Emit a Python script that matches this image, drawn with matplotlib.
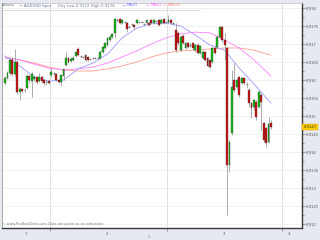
import matplotlib
matplotlib.use('Agg')
import matplotlib.pyplot as plt
from matplotlib.patches import Rectangle

# 30 minute candles, AUDUSD spot
opens = [0.91592, 0.91606, 0.91619, 0.91656, 0.91617, 0.91650, 0.91567, 0.91575, 0.91572, 0.91578,
         0.91611, 0.91597, 0.91603, 0.91608, 0.91597, 0.91608, 0.91600, 0.91594, 0.91597,
         0.91614, 0.91619, 0.91617, 0.91600, 0.91594, 0.91611, 0.91642, 0.91661, 0.91653, 0.91656,
         0.91667, 0.91686, 0.91667, 0.91664, 0.91669, 0.91664, 0.91658, 0.91661, 0.91661, 0.91661,
         0.91661, 0.91678, 0.91689, 0.91697, 0.91711, 0.91719, 0.91731, 0.91767, 0.91769, 0.91758,
         0.91761, 0.91758, 0.91747, 0.91756, 0.91753, 0.91758, 0.91761, 0.91761, 0.91756, 0.91758,
         0.91758, 0.91767, 0.91758, 0.91764, 0.91767, 0.91758, 0.91769, 0.91761,
         0.91761, 0.91767, 0.91758, 0.91739, 0.91731, 0.91683, 0.91722, 0.91689, 0.91703, 0.91697,
         0.91703, 0.91683, 0.91697, 0.91675, 0.91661, 0.91678, 0.91661, 0.91656, 0.91650, 0.91689,
         0.91692, 0.91719, 0.91747, 0.91711, 0.91689, 0.91364, 0.91453, 0.91600, 0.91581, 0.91608,
         0.91592, 0.91606, 0.91589, 0.91572, 0.91536, 0.91525, 0.91539, 0.91525, 0.91558, 0.91481,
         0.91467, 0.91428, 0.91481]
highs = [0.91611, 0.91625, 0.91661, 0.91664, 0.91686, 0.91656, 0.91581, 0.91578, 0.91578, 0.91617,
         0.91614, 0.91622, 0.91614, 0.91611, 0.91619, 0.91611, 0.91603, 0.91600, 0.91600,
         0.91633, 0.91622, 0.91619, 0.91603, 0.91617, 0.91633, 0.91678, 0.91664, 0.91664, 0.91667,
         0.91681, 0.91692, 0.91669, 0.91667, 0.91672, 0.91667, 0.91661, 0.91664, 0.91664, 0.91664,
         0.91683, 0.91694, 0.91706, 0.91719, 0.91725, 0.91731, 0.91772, 0.91772, 0.91772, 0.91769,
         0.91764, 0.91761, 0.91753, 0.91758, 0.91756, 0.91769, 0.91764, 0.91764, 0.91758, 0.91769,
         0.91761, 0.91769, 0.91769, 0.91767, 0.91769, 0.91769, 0.91772, 0.91764,
         0.91781, 0.91769, 0.91761, 0.91758, 0.91736, 0.91725, 0.91728, 0.91706, 0.91706, 0.91703,
         0.91706, 0.91700, 0.91700, 0.91697, 0.91683, 0.91681, 0.91664, 0.91658, 0.91692, 0.91694,
         0.91725, 0.91753, 0.91750, 0.91731, 0.91692, 0.91433, 0.91628, 0.91647, 0.91606, 0.91611,
         0.91608, 0.91608, 0.91594, 0.91578, 0.91539, 0.91547, 0.91544, 0.91572, 0.91564, 0.91483,
         0.91469, 0.91497, 0.91489]
lows = [0.91586, 0.91603, 0.91614, 0.91611, 0.91611, 0.91561, 0.91544, 0.91564, 0.91567, 0.91575,
        0.91594, 0.91553, 0.91597, 0.91589, 0.91594, 0.91592, 0.91586, 0.91586, 0.91589,
        0.91608, 0.91614, 0.91597, 0.91592, 0.91583, 0.91600, 0.91639, 0.91647, 0.91650, 0.91653,
        0.91664, 0.91667, 0.91661, 0.91661, 0.91653, 0.91653, 0.91656, 0.91658, 0.91658, 0.91656,
        0.91658, 0.91675, 0.91686, 0.91694, 0.91708, 0.91717, 0.91717, 0.91761, 0.91756, 0.91756,
        0.91758, 0.91733, 0.91744, 0.91750, 0.91742, 0.91756, 0.91758, 0.91758, 0.91753, 0.91756,
        0.91750, 0.91756, 0.91756, 0.91761, 0.91750, 0.91756, 0.91756, 0.91758,
        0.91758, 0.91756, 0.91753, 0.91678, 0.91697, 0.91681, 0.91700, 0.91686, 0.91689, 0.91692,
        0.91683, 0.91678, 0.91672, 0.91672, 0.91658, 0.91653, 0.91636, 0.91633, 0.91647, 0.91672,
        0.91689, 0.91717, 0.91706, 0.91656, 0.91225, 0.91344, 0.91447, 0.91567, 0.91578, 0.91553,
        0.91589, 0.91586, 0.91578, 0.91525, 0.91494, 0.91517, 0.91489, 0.91522, 0.91461, 0.91428,
        0.91414, 0.91425, 0.91464]
closes = [0.91606, 0.91619, 0.91656, 0.91617, 0.91650, 0.91567, 0.91575, 0.91569, 0.91572, 0.91611,
          0.91600, 0.91617, 0.91608, 0.91594, 0.91608, 0.91597, 0.91592, 0.91594, 0.91592,
          0.91622, 0.91619, 0.91600, 0.91594, 0.91614, 0.91631, 0.91661, 0.91650, 0.91658, 0.91661,
          0.91678, 0.91669, 0.91667, 0.91664, 0.91656, 0.91656, 0.91658, 0.91661, 0.91661, 0.91661,
          0.91678, 0.91692, 0.91703, 0.91717, 0.91719, 0.91728, 0.91769, 0.91767, 0.91758, 0.91767,
          0.91761, 0.91742, 0.91747, 0.91756, 0.91747, 0.91767, 0.91761, 0.91761, 0.91756, 0.91767,
          0.91753, 0.91758, 0.91767, 0.91764, 0.91753, 0.91767, 0.91758, 0.91761,
          0.91767, 0.91758, 0.91758, 0.91683, 0.91703, 0.91719, 0.91703, 0.91703, 0.91692, 0.91697,
          0.91689, 0.91697, 0.91675, 0.91694, 0.91678, 0.91656, 0.91639, 0.91636, 0.91689, 0.91675,
          0.91719, 0.91747, 0.91711, 0.91697, 0.91364, 0.91428, 0.91581, 0.91572, 0.91600, 0.91558,
          0.91606, 0.91592, 0.91589, 0.91536, 0.91522, 0.91544, 0.91497, 0.91567, 0.91539, 0.91433,
          0.91425, 0.91478, 0.91469]

# moving averages, read at a few candle positions
ma_idx = [0, 6, 12, 18, 24, 30, 36, 42, 48, 54, 60, 66, 72, 78, 84, 90, 96, 102, 109]
ma20 = [0.91667, 0.91639, 0.91608, 0.91597, 0.91600, 0.91631, 0.91647, 0.91672, 0.91717, 0.91744,
        0.91756, 0.91758, 0.91750, 0.91725, 0.91697, 0.91683, 0.91633, 0.91589, 0.91536]
ma50 = [0.91661, 0.91656, 0.91644, 0.91633, 0.91628, 0.91631, 0.91636, 0.91647, 0.91664, 0.91681,
        0.91700, 0.91717, 0.91728, 0.91733, 0.91731, 0.91711, 0.91689, 0.91656, 0.91611]
ma100 = [0.91664, 0.91656, 0.91647, 0.91636, 0.91628, 0.91625, 0.91625, 0.91631, 0.91639, 0.91650,
         0.91664, 0.91675, 0.91681, 0.91683, 0.91686, 0.91689, 0.91689, 0.91683, 0.91669]

yticks = [0.912, 0.9125, 0.913, 0.9135, 0.914, 0.9145, 0.915, 0.9155,
          0.916, 0.9165, 0.917, 0.9175, 0.918]
ytick_labels = ['0.912', '0.9125', '0.913', '0.9135', '0.914', '0.9145', '0.915', '0.9155',
                '0.916', '0.9165', '0.917', '0.9175', '0.918']
day_bounds = [18.44, 66.39, 113.52]
day_labels = ['1', '2', '3', '4']
day_label_pos = [8.6, 41.8, 89.75, 116.4]
last_price = 0.91469
last_label = '0.9147'

W, H = 320, 240
step = 2.44  # px per candle

fig = plt.figure(figsize=(W / 100, H / 100), dpi=100)
fig.patch.set_facecolor('#e6e9ef')
ax = fig.add_axes([2 / W, 1 - 228 / H, 300 / W, 225.5 / H])
ax.set_facecolor('white')
ax.set_xlim(-3 / step, 297 / step)
ax.set_ylim(0.911889, 0.918153)

# grid
for yt in yticks:
    ax.axhline(yt, color='#efefef', lw=0.6, zorder=0)
for xb in day_bounds:
    ax.axvline(xb, color='#dcdcdc', lw=0.6, zorder=0)

# moving averages
ax.plot(ma_idx, ma100, color='#ff9a8a', lw=0.6, zorder=2)
ax.plot(ma_idx, ma50, color='#ff80ff', lw=0.6, zorder=2)
ax.plot(ma_idx, ma20, color='#9a9aff', lw=0.6, zorder=2)

# candles
for i, (o, h, l, c) in enumerate(zip(opens, highs, lows, closes)):
    ax.vlines(i, l, h, color='#8c8c8c', lw=0.5, zorder=3)
    if c == o:
        ax.hlines(o, i - 0.4, i + 0.4, color='#707070', lw=0.6, zorder=4)
        continue
    col = '#10c010' if c > o else '#d01010'
    ax.add_patch(Rectangle((i - 0.38, min(o, c)), 0.76, abs(c - o),
                           facecolor=col, edgecolor='#303030', lw=0.25, zorder=4))

# axes styling
for side in ['right', 'bottom']:
    ax.spines[side].set_color('#3a3a3a')
    ax.spines[side].set_linewidth(1.0)
ax.spines['left'].set_color('#9a9a9a')
ax.spines['left'].set_linewidth(0.6)
ax.spines['top'].set_color('#c8c8c8')
ax.spines['top'].set_linewidth(0.6)

ax.yaxis.tick_right()
ax.set_yticks(yticks)
ax.set_yticklabels(ytick_labels)
ax.set_yticks([t + 0.00025 for t in yticks[:-1]], minor=True)
ax.tick_params(axis='y', which='major', labelsize=2.7, labelcolor='#555555',
               color='#555555', length=2, width=0.4, pad=0.8)
ax.tick_params(axis='y', which='minor', color='#555555', length=1.2, width=0.4)
ax.set_xticks(day_bounds)
ax.set_xticklabels([])
ax.tick_params(axis='x', color='#555555', length=2, width=0.4)

xt = ax.get_xaxis_transform()
for pos, lab in zip(day_label_pos, day_labels):
    ax.text(pos, -0.018, lab, transform=xt, fontsize=2.7, color='#555555',
            ha='center', va='top', clip_on=False)

# last price marker
yt_tr = ax.get_yaxis_transform()
ax.text(1.006, last_price, last_label, transform=yt_tr, fontsize=2.7, color='#333333',
        ha='left', va='center', clip_on=False,
        bbox=dict(boxstyle='square,pad=0.35', facecolor='#ffcc00', edgecolor='#e0a800', lw=0.3))

# header legend
header = [('Values', 2, '#666666'), ('\u2014', 18.5, '#00007a'), ('AUDUSD Spot', 24.5, '#5a6a9a'),
          ('Day Low 0.9122 High 0.9178', 57.5, '#7a7a9a'), ('\u2014', 121.5, '#0000ff'),
          ('MA20', 127, '#7070ff'), ('\u2014', 145.5, '#ff00ff'), ('MA50', 151, '#ff60ff'),
          ('\u2014', 162.5, '#ff2020'), ('MA100', 168, '#ff8080')]
for txt, xp, col in header:
    fig.text(xp / W, 1 - 5.5 / H, txt, fontsize=2.8, color=col, ha='left', va='center')
fig.add_artist(plt.Line2D([2 / W, 200 / W], [1 - 9.5 / H, 1 - 9.5 / H],
                          color='#d0d0d0', lw=0.5))

fig.text(2 / W, 1 - 224 / H, '\u00a9 www.ProRealTime.com Data are given as an indication',
         fontsize=2.5, color='#777777', ha='left', va='center')
fig.text(149 / W, 1 - 237 / H, '1', fontsize=2.3, color='#555555', ha='center', va='center')

fig.savefig('out.png', dpi=100, facecolor=fig.get_facecolor())
